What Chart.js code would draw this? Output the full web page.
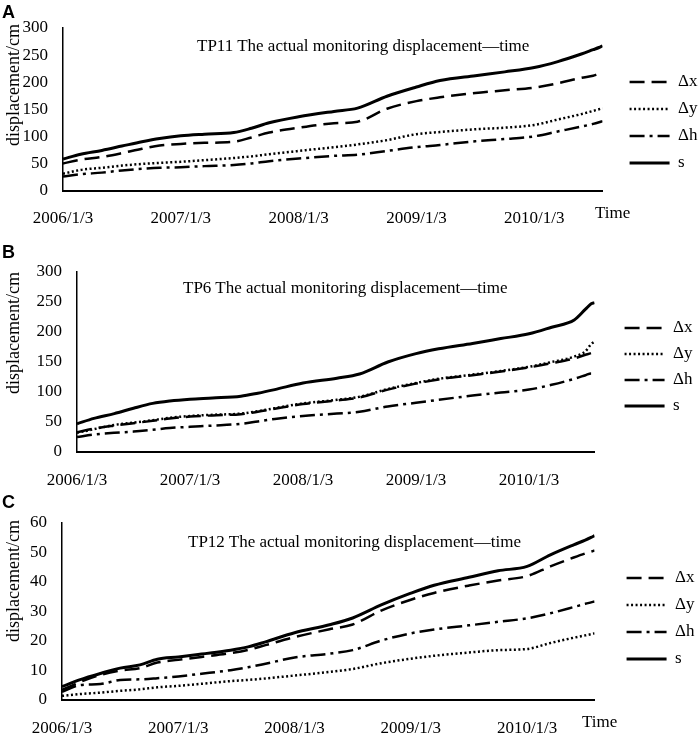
<!DOCTYPE html>
<html>
<head>
<meta charset="utf-8">
<title>TP displacement-time</title>
<script src="https://cdn.jsdelivr.net/npm/chart.js@4.4.1/dist/chart.umd.min.js"></script>
<style>
  html, body { margin: 0; padding: 0; background: #fff; overflow: hidden; }
  body { width: 699px; height: 733px; position: relative; font-family: "Liberation Serif", "Times New Roman", serif; color: #000; }
  canvas { position: absolute; left: 0; }
  .txt { position: absolute; white-space: nowrap; line-height: 1; font-size: 17px; z-index: 2; }
  .letter { position: absolute; font-family: "Liberation Sans", Arial, sans-serif; font-weight: bold; font-size: 18px; line-height: 1; z-index: 2; }
  .ytitle { position: absolute; width: 160px; height: 20px; line-height: 20px; text-align: center; font-size: 18px; transform: rotate(-90deg); white-space: nowrap; z-index: 2; }
</style>
</head>
<body>
<canvas id="chartA" width="710" height="250" style="top:0px"></canvas>
<canvas id="chartB" width="710" height="260" style="top:240px"></canvas>
<canvas id="chartC" width="710" height="280" style="top:480px"></canvas>

<div class="letter" style="left:2px; top:3px">A</div>
<div class="letter" style="left:2px; top:243px">B</div>
<div class="letter" style="left:2px; top:493px">C</div>

<div class="txt" style="left:197px; top:37px">TP11 The actual monitoring displacement—time</div>
<div class="txt" style="left:183px; top:279px">TP6 The actual monitoring displacement—time</div>
<div class="txt" style="left:188px; top:533px">TP12 The actual monitoring displacement—time</div>

<div class="txt" style="left:595px; top:204px">Time</div>
<div class="txt" style="left:582px; top:713px">Time</div>

<div class="ytitle" style="left:-67px; top:75px">displacement/cm</div>
<div class="ytitle" style="left:-67px; top:323px">displacement/cm</div>
<div class="ytitle" style="left:-67px; top:571px">displacement/cm</div>

<script>
// years after 2006/1/3
const times = [0, 0.15, 0.33, 0.5, 0.67, 0.82, 1.0, 1.2, 1.45, 1.6, 1.75, 2.0, 2.3, 2.5, 2.75, 3.0, 3.2, 3.5, 3.75, 4.0, 4.2, 4.4, 4.5, 4.55, 4.58];
const tickLabels = ['2006/1/3', '2007/1/3', '2008/1/3', '2009/1/3', '2010/1/3'];
const seriesNames = ['Δx', 'Δy', 'Δh', 's'];

// TP11
const tp11Dx = [50, 57, 62, 69, 77, 83, 86, 88, 90, 98, 107, 116, 124, 127, 151, 165, 172, 180, 185, 190, 198, 208, 212, 215, 216];
const tp11Dy = [31, 38, 42, 46, 49, 51, 53, 56, 60, 63, 67, 73, 80, 85, 93, 104, 108, 113, 116, 121, 131, 141, 147, 150, 152];
const tp11Dh = [26, 30, 33, 37, 40, 42, 43, 45, 47, 50, 54, 59, 64, 66, 73, 80, 84, 91, 95, 100, 109, 118, 123, 126, 128];
const tp11S  = [58, 67, 74, 82, 90, 96, 101, 104, 107, 115, 125, 136, 146, 152, 174, 191, 203, 212, 219, 227, 238, 252, 260, 264, 267];

// TP6
const tp6Dx = [33, 39, 44, 48, 52, 56, 59, 61, 63, 67, 72, 80, 86, 91, 104, 114, 121, 128, 134, 141, 148, 156, 162, 165, 167];
const tp6Dy = [32, 38, 45, 49, 53, 57, 60, 62, 64, 68, 73, 81, 87, 92, 105, 115, 122, 129, 135, 142, 150, 159, 168, 180, 184];
const tp6Dh = [25, 29, 32, 34, 37, 40, 42, 44, 47, 51, 55, 60, 64, 67, 76, 82, 87, 94, 99, 104, 112, 122, 128, 131, 131];
const tp6S  = [47, 56, 64, 73, 81, 85, 88, 90, 93, 98, 104, 115, 123, 130, 150, 164, 172, 181, 189, 197, 208, 220, 238, 247, 249];

// TP12
const tp12Dx = [3.4, 6, 8.5, 10, 10.8, 12.7, 13.6, 14.6, 15.9, 17, 18.6, 21.3, 24, 25.6, 30.4, 34, 36.3, 38.8, 40.5, 42, 45.3, 48.3, 49.7, 50.3, 50.7];
const tp12Dy = [1.4, 2, 2.5, 3.1, 3.6, 4.3, 4.8, 5.5, 6.4, 6.8, 7.3, 8.3, 9.5, 10.5, 12.5, 14, 15, 16.1, 16.9, 17.3, 19.3, 21.1, 21.9, 22.3, 22.6];
const tp12Dh = [2.8, 5.0, 5.4, 6.8, 7, 7.4, 8, 8.9, 10.1, 11.1, 12.3, 14.4, 15.7, 16.9, 20.2, 22.6, 23.9, 25.3, 26.5, 27.7, 29.4, 31.5, 32.6, 33.1, 33.4];
const tp12S  = [4.5, 6.8, 9, 10.8, 11.9, 13.8, 14.6, 15.6, 16.9, 18, 19.7, 22.8, 25.5, 27.8, 32.3, 36.2, 38.9, 41.6, 43.8, 45.3, 49.2, 52.6, 54.2, 55.1, 55.7];

const lineStyles = [
  { dash: [15, 7], width: 2.5 },
  { dash: [2, 2.5], width: 2.5 },
  { dash: [15, 5, 3, 5], width: 2.5 },
  { dash: [], width: 3 }
];

Chart.defaults.font.family = '"Liberation Serif", "Times New Roman", serif';
Chart.defaults.font.size = 17;
Chart.defaults.color = '#000';

// legend samples keep the dash pattern of each line
function legendItems(chart) {
  return chart.data.datasets.map((ds, i) => ({
    text: ds.label,
    fillStyle: '#000',
    strokeStyle: '#000',
    lineWidth: ds.borderWidth,
    lineDash: ds.borderDash,
    lineCap: 'butt',
    pointStyle: 'line',
    hidden: false,
    datasetIndex: i
  }));
}

function makeChart(id, series, box) {
  const datasets = series.map((vals, i) => ({
    label: seriesNames[i],
    data: vals.map((v, k) => ({ x: times[k], y: v })),
    borderColor: '#000',
    backgroundColor: '#000',
    borderWidth: lineStyles[i].width,
    borderDash: lineStyles[i].dash,
    pointRadius: 0,
    cubicInterpolationMode: 'monotone',
    fill: false
  }));

  const hidden = { display: false, drawTicks: false };

  return new Chart(document.getElementById(id), {
    type: 'line',
    data: { datasets: datasets },
    options: {
      responsive: false,
      animation: false,
      events: [],
      layout: { padding: box.pad },
      plugins: {
        tooltip: { enabled: false },
        legend: {
          position: 'right',
          labels: {
            usePointStyle: true,
            pointStyleWidth: 40,
            padding: box.legendPad,
            color: '#000',
            font: { size: 17 },
            generateLabels: legendItems
          }
        }
      },
      scales: {
        x: {
          type: 'linear',
          min: 0,
          max: times[times.length - 1],
          grid: hidden,
          border: { display: true, color: '#000', width: 2 },
          ticks: {
            stepSize: 1,
            includeBounds: false,
            autoSkip: false,
            maxRotation: 0,
            padding: 18,
            callback: v => tickLabels[v] ?? ''
          },
          afterFit: s => { s.height = box.xh; }
        },
        // spacer above the plot
        xt: {
          type: 'linear',
          position: 'top',
          grid: hidden,
          border: { display: false },
          ticks: { display: false },
          afterFit: s => { s.height = box.top; }
        },
        y: {
          min: 0,
          max: box.yMax,
          grid: hidden,
          border: { display: true, color: '#000', width: 1.5 },
          ticks: { stepSize: box.yStep, padding: 15 },
          afterFit: s => { s.width = box.yw; }
        },
        // spacer between plot and legend
        yr: {
          type: 'linear',
          position: 'right',
          grid: hidden,
          border: { display: false },
          ticks: { display: false },
          afterFit: s => { s.width = box.rw; }
        }
      }
    }
  });
}

makeChart('chartA', [tp11Dx, tp11Dy, tp11Dh, tp11S],
  { pad: { left: 0, top: 0, right: 2.5, bottom: 5 }, top: 28, xh: 54.5, yw: 63, rw: 17, legendPad: 10, yMax: 300, yStep: 50 });
makeChart('chartB', [tp6Dx, tp6Dy, tp6Dh, tp6S],
  { pad: { left: 0, top: 0, right: 7.5, bottom: 6 }, top: 32, xh: 42, yw: 77, rw: 21, legendPad: 9, yMax: 300, yStep: 50 });
makeChart('chartC', [tp12Dx, tp12Dy, tp12Dh, tp12S],
  { pad: { left: 0, top: 0, right: 5.5, bottom: 3 }, top: 43, xh: 57, yw: 62, rw: 22, legendPad: 10, yMax: 60, yStep: 10 });
</script>
</body>
</html>
